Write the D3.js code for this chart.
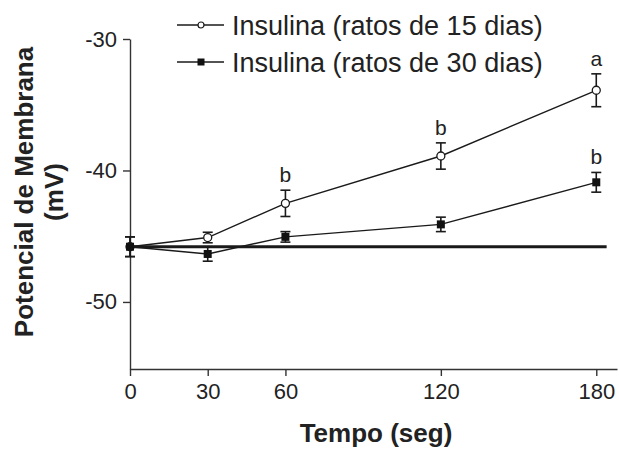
<!DOCTYPE html>
<html>
<head>
<meta charset="utf-8">
<script src="https://cdn.jsdelivr.net/npm/d3@7"></script>
<style>
  body { margin: 0; background: #fff; }
  svg { font-family: "Liberation Sans", Arial, sans-serif; }
</style>
</head>
<body>
<div id="chart"></div>
<script>
// data
var tempos = [0, 30, 60, 120, 180];
var ratos15 = [-45.8, -45.1, -42.5, -38.9, -33.9];
var erro15 = [0.75, 0.4, 1.0, 1.0, 1.25];
var ratos30 = [-45.8, -46.35, -45.05, -44.1, -40.9];
var erro30 = [0.75, 0.55, 0.4, 0.55, 0.75];
var letras15 = ["", "", "b", "b", "a"];
var letras30 = ["", "", "", "", "b"];
var controle = -45.8;
var yTicks = [-30, -40, -50];
var legenda = ["Insulina (ratos de 15 dias)", "Insulina (ratos de 30 dias)"];

var width = 619, height = 450,
    margin = {top: 39, right: 2, bottom: 81, left: 130};

var svg = d3.select("#chart").append("svg")
  .attr("width", width).attr("height", height);

var g = svg.append("g")
  .attr("transform", `translate(${margin.left},${margin.top})`);

var w = width - margin.left - margin.right,
    h = height - margin.top - margin.bottom;

var x = d3.scaleLinear().domain([0, 188]).range([0, w]);
var y = d3.scaleLinear().domain([-55.1, -30]).range([h, 0]);

// axes (plain hyphen for negatives, like the original)
var xAxis = d3.axisBottom(x).tickValues(tempos).tickSize(7).tickSizeOuter(0).tickPadding(6)
  .tickFormat(d => String(d));
var yAxis = d3.axisLeft(y).tickValues(yTicks).tickSize(7).tickSizeOuter(0).tickPadding(6)
  .tickFormat(d => String(d));

var gx = g.append("g").attr("transform", `translate(0,${h})`).call(xAxis);
var gy = g.append("g").call(yAxis);
[gx, gy].forEach(a => {
  a.selectAll("path, line").attr("stroke", "#333").attr("stroke-width", 1.4);
  a.selectAll("text").attr("fill", "#222").style("font-size", "22px");
});
gx.selectAll("text").attr("dy", "0.75em");

// control line
g.append("line")
  .attr("x1", x(0)).attr("x2", x(184))
  .attr("y1", y(controle)).attr("y2", y(controle))
  .attr("stroke", "#1a1a1a").attr("stroke-width", 3);

var line = d3.line().x(d => x(d[0])).y(d => y(d[1]));

function serie(vals, errs, letras, filled) {
  var pts = tempos.map((t, i) => [t, vals[i], errs[i], letras[i]]);
  g.append("path").datum(pts).attr("d", line)
    .attr("fill", "none").attr("stroke", "#1a1a1a").attr("stroke-width", 1.4);
  var e = g.append("g").selectAll("g").data(pts).enter().append("g")
    .attr("stroke", "#1a1a1a").attr("stroke-width", 1.6);
  e.append("line").attr("x1", d => x(d[0])).attr("x2", d => x(d[0]))
    .attr("y1", d => y(d[1] - d[2])).attr("y2", d => y(d[1] + d[2]));
  e.append("line").attr("x1", d => x(d[0]) - 5).attr("x2", d => x(d[0]) + 5)
    .attr("y1", d => y(d[1] + d[2])).attr("y2", d => y(d[1] + d[2]));
  e.append("line").attr("x1", d => x(d[0]) - 5).attr("x2", d => x(d[0]) + 5)
    .attr("y1", d => y(d[1] - d[2])).attr("y2", d => y(d[1] - d[2]));
  if (filled) {
    g.append("g").selectAll("rect").data(pts).enter().append("rect")
      .attr("x", d => x(d[0]) - 4).attr("y", d => y(d[1]) - 4)
      .attr("width", 8).attr("height", 8).attr("fill", "#111");
  } else {
    g.append("g").selectAll("circle").data(pts).enter().append("circle")
      .attr("cx", d => x(d[0])).attr("cy", d => y(d[1])).attr("r", 4)
      .attr("fill", "#fff").attr("stroke", "#1a1a1a").attr("stroke-width", 1.3);
  }
  g.append("g").selectAll("text").data(pts.filter(d => d[3])).enter().append("text")
    .attr("x", d => x(d[0])).attr("y", d => y(d[1] + d[2]) - 8)
    .attr("text-anchor", "middle").style("font-size", "21px").attr("fill", "#222")
    .text(d => d[3]);
}
serie(ratos15, erro15, letras15, false);
serie(ratos30, erro30, letras30, true);

// legend
var leg = svg.append("g").attr("transform", "translate(177,25)");
legenda.forEach((txt, i) => {
  var r = leg.append("g").attr("transform", `translate(0,${i * 37})`);
  r.append("line").attr("x1", 0).attr("x2", 47).attr("stroke", "#1a1a1a").attr("stroke-width", 1.4);
  if (i === 0) r.append("circle").attr("cx", 24).attr("r", 3).attr("fill", "#fff").attr("stroke", "#1a1a1a").attr("stroke-width", 1.2);
  else r.append("rect").attr("x", 20.5).attr("y", -3.5).attr("width", 7).attr("height", 7).attr("fill", "#111");
  r.append("text").attr("x", 55).attr("dy", "0.36em").style("font-size", "27px").attr("fill", "#222").text(txt);
});

// axis titles
svg.append("text").attr("x", 376).attr("y", 442).attr("text-anchor", "middle")
  .style("font-size", "26px").style("font-weight", "bold").attr("fill", "#222").text("Tempo (seg)");
var yt = svg.append("text").attr("transform", "translate(33,192) rotate(-90)")
  .attr("text-anchor", "middle").style("font-size", "26px").style("font-weight", "bold").attr("fill", "#222");
yt.append("tspan").attr("x", 0).attr("dy", 0).text("Potencial de Membrana");
yt.append("tspan").attr("x", 0).attr("dy", 30).text("(mV)");
</script>
</body>
</html>
